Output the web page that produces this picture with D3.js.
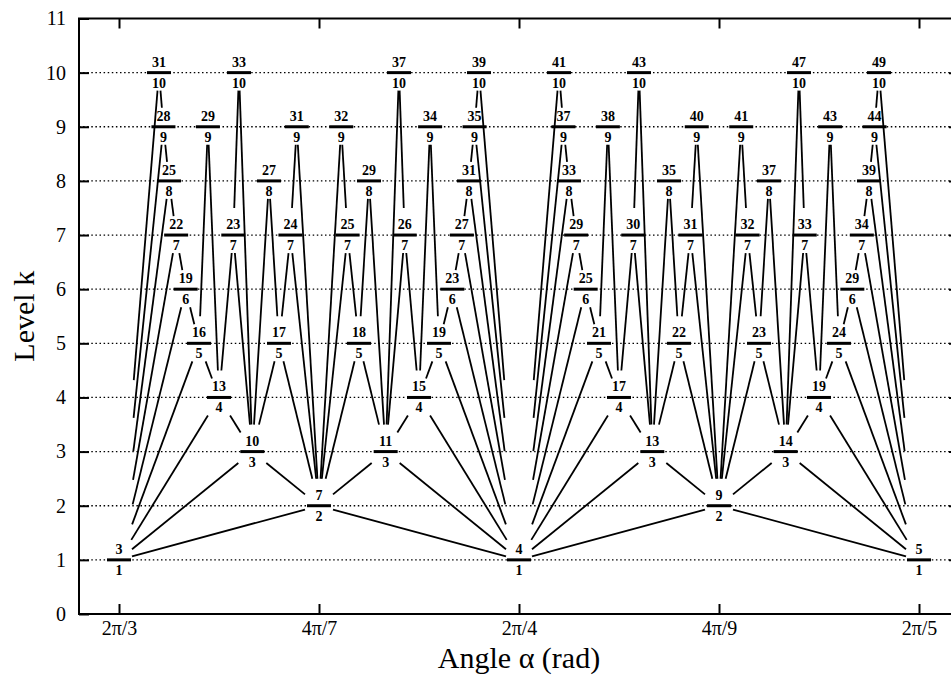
<!DOCTYPE html>
<html>
<head>
<meta charset="utf-8">
<script src="https://cdn.jsdelivr.net/npm/d3@7"></script>
<style>
body { margin: 0; background: #fff; }
svg text { font-family: "Liberation Serif", "Times New Roman", serif; }
</style>
</head>
<body>
<svg id="chart"></svg>
<script>
let width = 951,
    height = 675;

let plotLeft = 79, plotRight = 959,
    plotTop = 18.5, plotBottom = 614;

// numerators n of the n/k nodes, one list per level k = 1..10
let numeratorsByLevel = [
    [3, 4, 5],
    [7, 9],
    [10, 11, 13, 14],
    [13, 15, 17, 19],
    [16, 17, 18, 19, 21, 22, 23, 24],
    [19, 23, 25, 29],
    [22, 23, 24, 25, 26, 27, 29, 30, 31, 32, 33, 34],
    [25, 27, 29, 31, 33, 35, 37, 39],
    [28, 29, 31, 32, 34, 35, 37, 38, 40, 41, 43, 44],
    [31, 33, 37, 39, 41, 43, 47, 49]
];

let xTickValues = [3, 3.5, 4, 4.5, 5];
let xTickLabels = ["2π/3", "4π/7", "2π/4", "4π/9", "2π/5"];
let yTickValues = [0, 1, 2, 3, 4, 5, 6, 7, 8, 9, 10, 11];
let gridLevels = [1, 2, 3, 4, 5, 6, 7, 8, 9, 10];

let svg = d3.select("svg#chart")
    .attr("width", width)
    .attr("height", height);

let x = d3.scaleLinear().domain([2.9, 5.1]).range([plotLeft, plotRight]);
let y = d3.scaleLinear().domain([0, 11]).range([plotBottom, plotTop]);

let nodes = [];
numeratorsByLevel.forEach((list, i) => {
    list.forEach(n => nodes.push({ n: n, k: i + 1, v: n / (i + 1) }));
});

// each node is the mediant of two neighbouring nodes of lower levels
let edges = [];
nodes.forEach(c => {
    if (c.k == 1) return;
    let lower = nodes.filter(d => d.k < c.k);
    for (let a of lower) {
        let b = lower.find(d => d.n == c.n - a.n && d.k == c.k - a.k);
        if (b && a.v < b.v && Math.abs(a.n * b.k - b.n * a.k) == 1) {
            edges.push({ parent: a, child: c });
            edges.push({ parent: b, child: c });
            break;
        }
    }
});

svg.append("g")
    .selectAll("line")
    .data(gridLevels)
    .enter().append("line")
    .attr("x1", plotLeft)
    .attr("x2", plotRight)
    .attr("y1", d => y(d))
    .attr("y2", d => y(d))
    .attr("stroke", "#000")
    .attr("stroke-width", 1.3)
    .attr("stroke-dasharray", "1.5,2.6");

// part of a line kept outside a box round the node
function gapT(dx, dy, hw, hh) {
    dx = Math.abs(dx); dy = Math.abs(dy);
    return Math.min(dx > 0 ? hw / dx : 1, dy > 0 ? hh / dy : 1);
}

let lines = edges.map(e => {
    let x1 = x(e.parent.v), y1 = y(e.parent.k);
    let x2 = x(e.child.v), y2 = y(e.child.k);
    let dy = y1 - y2;
    let tb;
    if (e.parent.k == 1) {
        // lines leaving the base nodes stop higher the steeper they are
        tb = Math.max(0.041 * (e.child.k - 1), gapT(x2 - x1, dy, 13, 19));
    } else {
        tb = gapT(x2 - x1, dy, 14, Math.max(19, Math.min(27, 0.35 * dy)));
    }
    let tt = gapT(x2 - x1, dy, 14, 18);
    return {
        x1: x1 + tb * (x2 - x1), y1: y1 + tb * (y2 - y1),
        x2: x2 - tt * (x2 - x1), y2: y2 - tt * (y2 - y1)
    };
});

svg.append("g")
    .selectAll("line")
    .data(lines)
    .enter().append("line")
    .attr("x1", d => d.x1)
    .attr("y1", d => d.y1)
    .attr("x2", d => d.x2)
    .attr("y2", d => d.y2)
    .attr("stroke", "#000")
    .attr("stroke-width", 1.8);

let nodeG = svg.append("g")
    .selectAll("g")
    .data(nodes)
    .enter().append("g")
    .attr("transform", d => `translate(${x(d.v)},${y(d.k)})`);

nodeG.append("line")
    .attr("x1", -12)
    .attr("x2", 12)
    .attr("stroke", "#000")
    .attr("stroke-width", 3);

nodeG.append("text")
    .attr("y", -6)
    .attr("text-anchor", "middle")
    .attr("font-size", 14)
    .attr("font-weight", "bold")
    .text(d => d.n);

nodeG.append("text")
    .attr("y", 15)
    .attr("text-anchor", "middle")
    .attr("font-size", 14)
    .attr("font-weight", "bold")
    .text(d => d.k);

// axes with inward ticks, mirrored on top and right
function styleAxis(g) {
    g.attr("font-family", null).attr("font-size", null);
    g.select(".domain").remove();
    g.selectAll(".tick line").attr("stroke", "#000").attr("stroke-width", 2);
    g.selectAll(".tick text").attr("fill", "#000").attr("font-size", 20);
}

svg.append("g")
    .attr("transform", `translate(0,${plotBottom})`)
    .call(d3.axisBottom(x).tickValues(xTickValues)
        .tickFormat((d, i) => xTickLabels[i]).tickSize(-10).tickPadding(7))
    .call(styleAxis);

svg.append("g")
    .attr("transform", `translate(0,${plotTop})`)
    .call(d3.axisTop(x).tickValues(xTickValues).tickFormat("").tickSize(-10))
    .call(styleAxis);

svg.append("g")
    .attr("transform", `translate(${plotLeft},0)`)
    .call(d3.axisLeft(y).tickValues(yTickValues).tickSize(-10).tickPadding(13))
    .call(styleAxis);

svg.append("g")
    .attr("transform", `translate(${plotRight},0)`)
    .call(d3.axisRight(y).tickValues(yTickValues.slice(1, 11)).tickFormat("").tickSize(-10))
    .call(styleAxis);

svg.append("rect")
    .attr("x", plotLeft)
    .attr("y", plotTop)
    .attr("width", plotRight - plotLeft)
    .attr("height", plotBottom - plotTop)
    .attr("fill", "none")
    .attr("stroke", "#000")
    .attr("stroke-width", 2);

svg.append("text")
    .attr("x", (plotLeft + plotRight) / 2)
    .attr("y", 668)
    .attr("text-anchor", "middle")
    .attr("font-size", 30)
    .text("Angle α (rad)");

svg.append("text")
    .attr("transform", `translate(34,${(plotTop + plotBottom) / 2}) rotate(-90)`)
    .attr("text-anchor", "middle")
    .attr("font-size", 30)
    .text("Level k");
</script>
</body>
</html>
